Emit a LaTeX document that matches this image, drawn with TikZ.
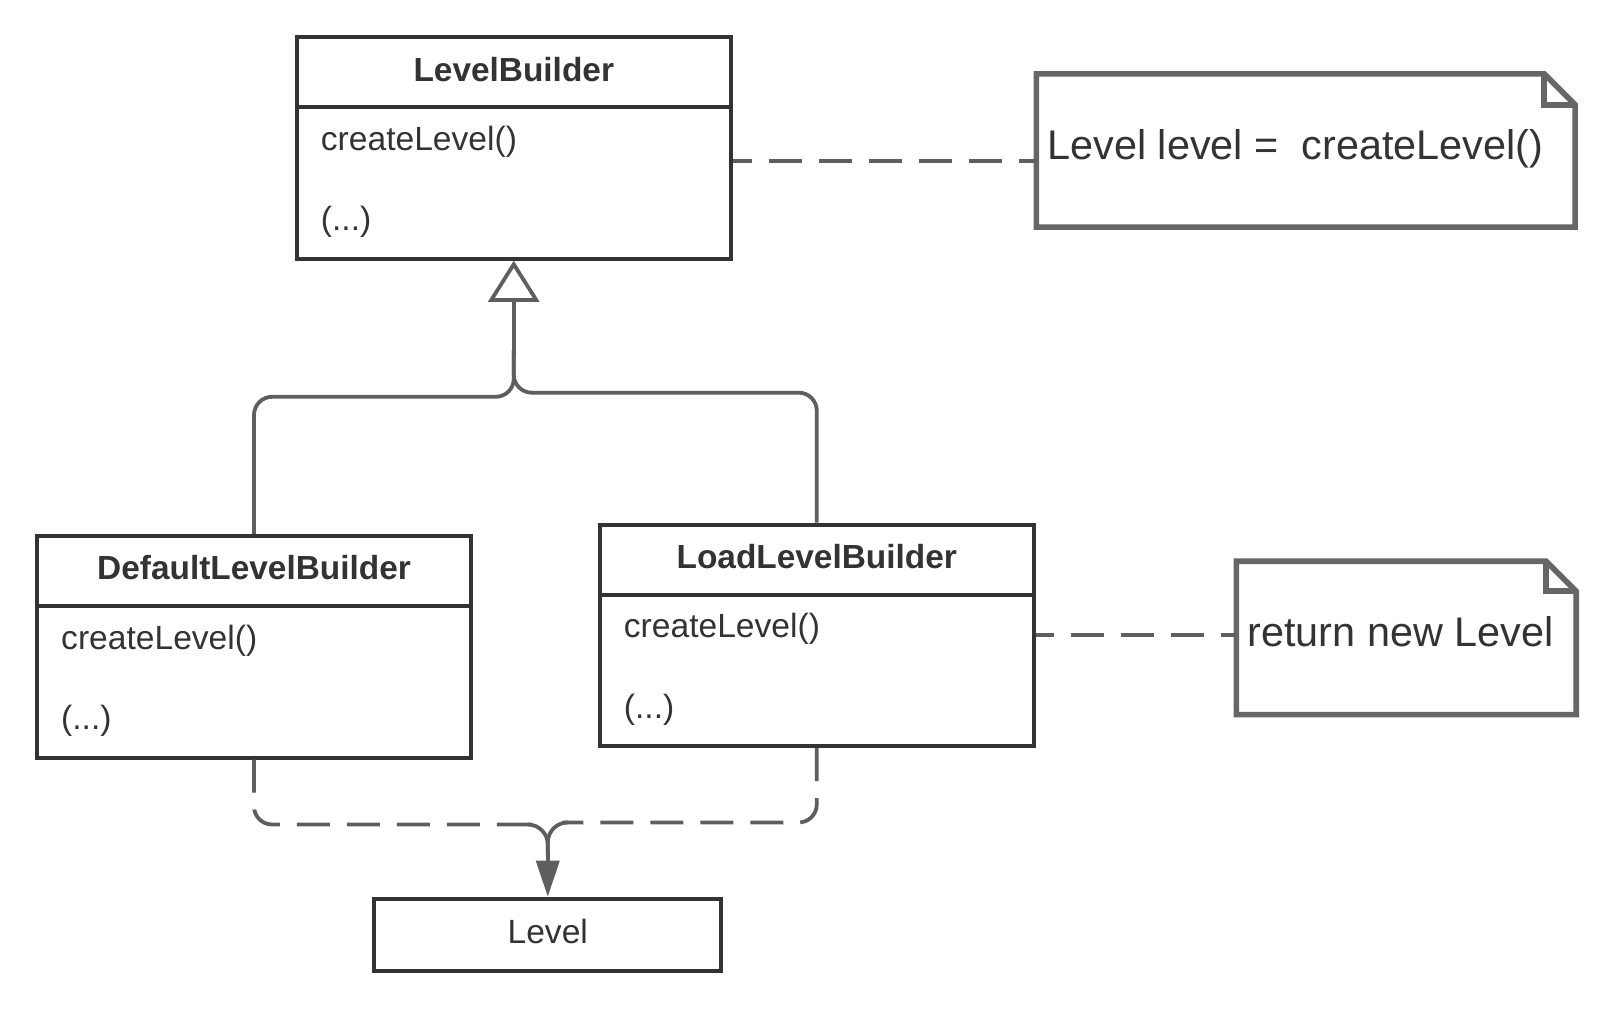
\documentclass[tikz,border=0pt]{standalone}
\usepackage{fontspec}
\setmainfont{Liberation Sans}
\usetikzlibrary{arrows.meta,fit,calc}
\definecolor{ink}{HTML}{333333}
\definecolor{connc}{HTML}{5E5E5E}
\definecolor{notec}{HTML}{666666}
\begin{document}
\begin{tikzpicture}[x=0.5153pt,y=-0.5153pt,
 classbox/.style={draw=ink, line width=2pt, inner sep=0pt},
 divider/.style={draw=ink, line width=2pt},
 title/.style={font=\fontsize{16.7}{20}\selectfont\bfseries, text=ink, anchor=base, inner sep=0pt},
 member/.style={font=\fontsize{16.8}{20}\selectfont, text=ink, anchor=base west, inner sep=0pt},
 plain/.style={font=\fontsize{16.8}{20}\selectfont, text=ink, anchor=base, inner sep=0pt},
 notetext/.style={font=\fontsize{20.7}{24}\selectfont, text=ink, anchor=base west, inner sep=0pt},
 notebox/.style={inner sep=0pt},
 noteshape/.style={draw=notec, line width=2.8pt, line join=miter},
 conn/.style={draw=connc, line width=1.9pt},
 dconn/.style={conn, dash pattern=on 16.5pt off 8.5pt},
]
\useasboundingbox (0,0) rectangle (1568,990);

% LevelBuilder
\node[classbox, fit={(288,36)(709,251)}] (lb) {};
\draw[divider] (lb.west |- 0,104) -- (lb.east |- 0,104);
\node[title] (lbt) at (498.5,78.6) {LevelBuilder};
\node[member] (lbm1) at (311,146) {createLevel()};
\node[member] (lbm2) at (311,224) {(...)};

% DefaultLevelBuilder
\node[classbox, fit={(36,520)(457,735)}] (dlb) {};
\draw[divider] (dlb.west |- 0,588) -- (dlb.east |- 0,588);
\node[title] (dlbt) at (246.5,562.6) {DefaultLevelBuilder};
\node[member] (dlbm1) at (59,630) {createLevel()};
\node[member] (dlbm2) at (59,708) {(...)};

% LoadLevelBuilder
\node[classbox, fit={(582,509)(1003,724)}] (llb) {};
\draw[divider] (llb.west |- 0,577) -- (llb.east |- 0,577);
\node[title] (llbt) at (792.5,551.6) {LoadLevelBuilder};
\node[member] (llbm1) at (605,619) {createLevel()};
\node[member] (llbm2) at (605,697) {(...)};

% Level
\node[classbox, fit={(363,872)(700,942)}] (level) {};
\node[plain] (levelt) at (531.5,915) {Level};

% Notes
\node[notebox, fit={(1006,72)(1528,220)}] (note1) {};
\draw[noteshape] (note1.north west) -- ([xshift=-15.5pt]note1.north east) -- ([yshift=-15.5pt]note1.north east) -- (note1.south east) -- (note1.south west) -- cycle;
\draw[noteshape] ([xshift=-15.5pt]note1.north east) -- ([xshift=-15.5pt,yshift=-15.5pt]note1.north east) -- ([yshift=-15.5pt]note1.north east);
\node[notetext] (n1t) at (1016,155) {Level level =\ \ createLevel()};

\node[notebox, fit={(1200,545)(1529,693)}] (note2) {};
\draw[noteshape] (note2.north west) -- ([xshift=-15pt]note2.north east) -- ([yshift=-15pt]note2.north east) -- (note2.south east) -- (note2.south west) -- cycle;
\draw[noteshape] ([xshift=-15pt]note2.north east) -- ([xshift=-15pt,yshift=-15pt]note2.north east) -- ([yshift=-15pt]note2.north east);
\node[notetext] (n2t) at (1210,627.5) {return new Level};

% note connectors
\draw[dconn, dash phase=6.75pt] (lb.east |- 0,156) -- (note1.west |- 0,156);
\draw[dconn, dash phase=7.5pt] (llb.east |- 0,616) -- (note2.west |- 0,616);

% inheritance
\draw[conn, rounded corners=9] (dlb.north) |- (498.5,385) -- (498.5,340);
\draw[conn, rounded corners=9] (llb.north) |- (498.5,381) -- (498.5,340);
\draw[conn, -{Triangle[open, length=20.6pt, width=25.5pt]}] (498.5,345) -- (lb.south);

% dependency
\draw[dconn, rounded corners=9] (dlb.south) |- (518,800);
\draw[dconn, rounded corners=9] (llb.south) |- (546,798);
\draw[conn, rounded corners=10] (516,800) -| (531.5,830);
\draw[conn, rounded corners=10] (548,798) -| (531.5,830);
\draw[conn, -{Triangle[length=18pt, width=11.5pt]}] (531.5,825) -- (level.north);
\end{tikzpicture}
\end{document}
